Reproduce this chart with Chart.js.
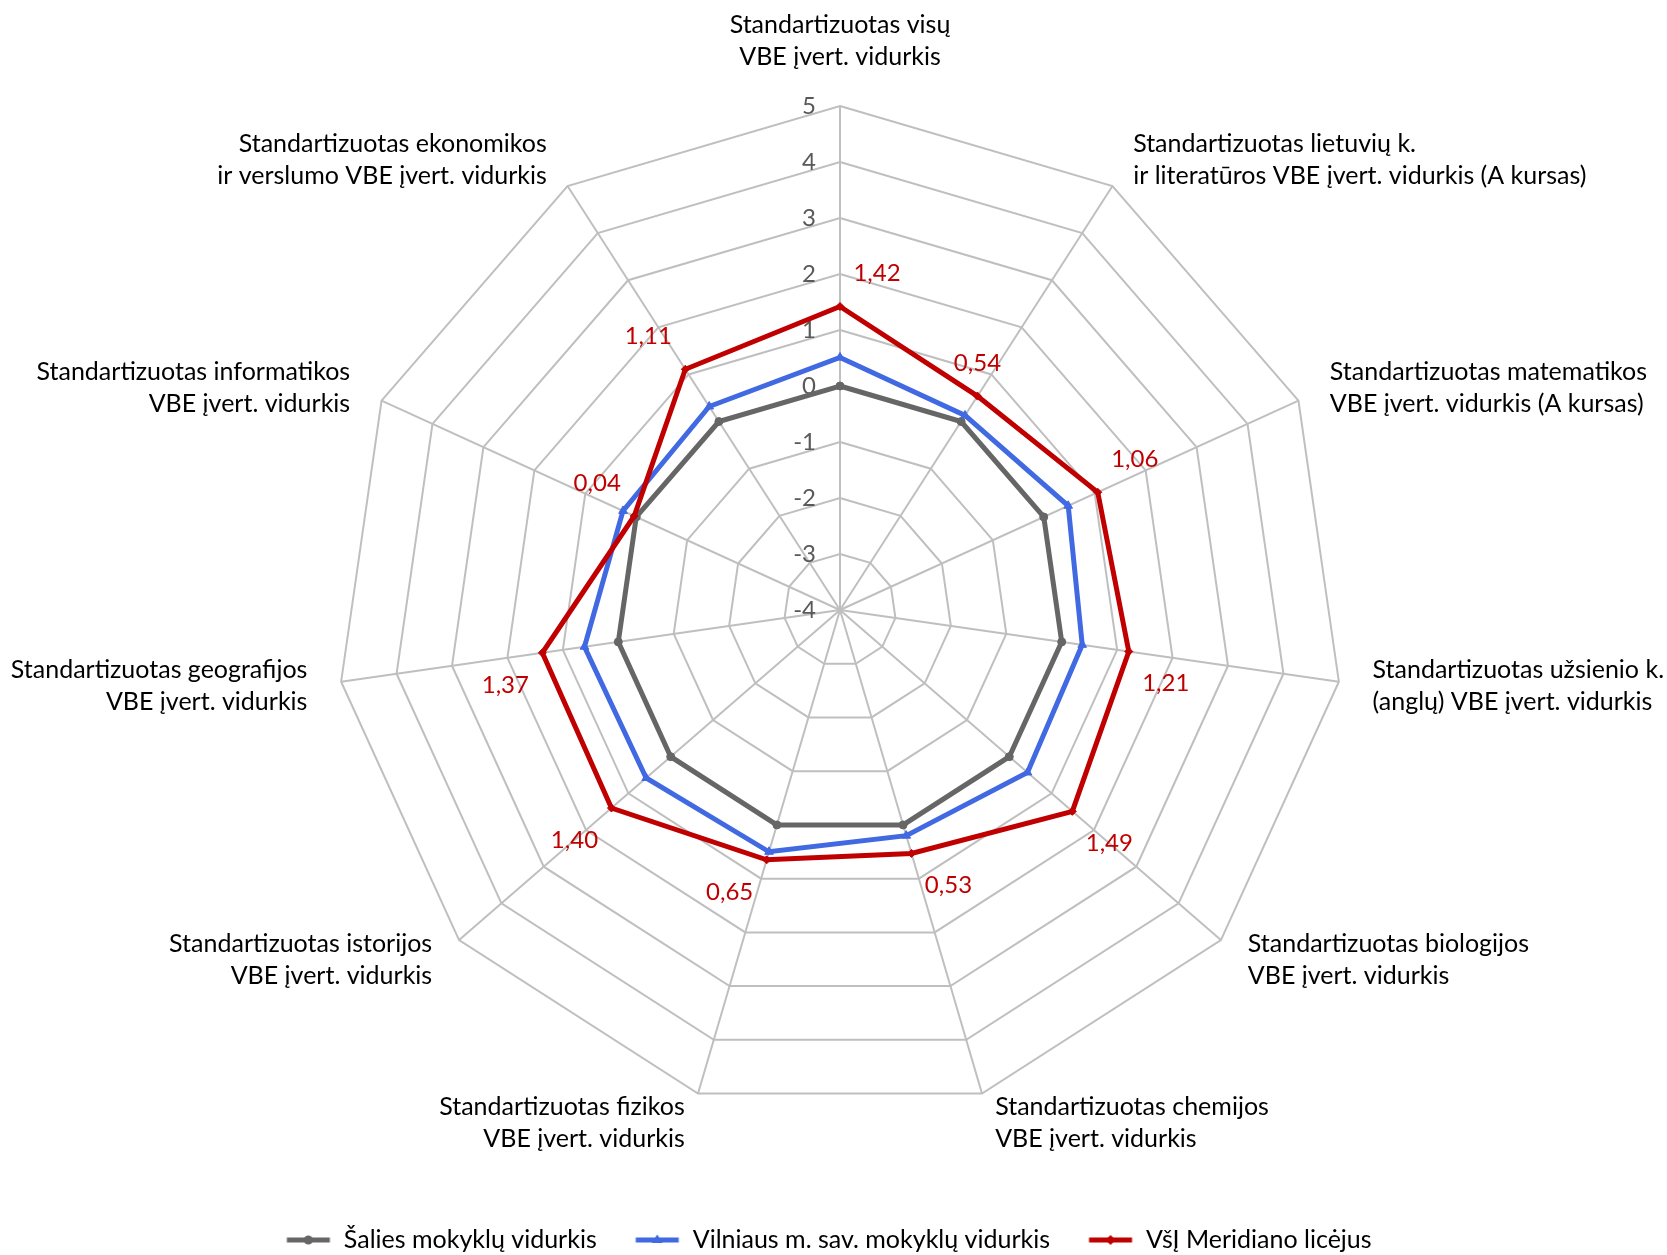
<!DOCTYPE html>
<html><head><meta charset="utf-8">
<script src="https://cdn.jsdelivr.net/npm/chart.js@4.4.1/dist/chart.umd.min.js"></script>
<style>html,body{margin:0;padding:0;background:#fff}#wrap{width:1667px;height:1255px;position:relative}</style>
</head><body><div id="wrap"><canvas id="c"></canvas></div>
<script>
const categories = [
  ["Standartizuotas visų", "VBE įvert. vidurkis"],
  ["Standartizuotas lietuvių k.", "ir literatūros VBE įvert. vidurkis (A kursas)"],
  ["Standartizuotas matematikos", "VBE įvert. vidurkis (A kursas)"],
  ["Standartizuotas užsienio k.", "(anglų) VBE įvert. vidurkis"],
  ["Standartizuotas biologijos", "VBE įvert. vidurkis"],
  ["Standartizuotas chemijos", "VBE įvert. vidurkis"],
  ["Standartizuotas fizikos", "VBE įvert. vidurkis"],
  ["Standartizuotas istorijos", "VBE įvert. vidurkis"],
  ["Standartizuotas geografijos", "VBE įvert. vidurkis"],
  ["Standartizuotas informatikos", "VBE įvert. vidurkis"],
  ["Standartizuotas ekonomikos", "ir verslumo VBE įvert. vidurkis"]
];
const seriesNames = ["Šalies mokyklų vidurkis", "Vilniaus m. sav. mokyklų vidurkis", "VšĮ Meridiano licėjus"];
const nationalValues = [0, 0, 0, 0, 0, 0, 0, 0, 0, 0, 0];
const vilniusValues = [0.51, 0.13, 0.48, 0.37, 0.43, 0.20, 0.50, 0.58, 0.61, 0.26, 0.32];
const meridianValues = [1.42, 0.54, 1.06, 1.21, 1.49, 0.53, 0.65, 1.40, 1.37, 0.04, 1.11];
const axisMin = -4;
const axisMax = 5;
const tickStep = 1;
const labelAnchors = ['ne', 'n', 'ne', 'se', 'se', 'se', 'sw', 'sw', 'sw', 'nw', 'nw'];

const FONT = 'Lato, "Open Sans", sans-serif';
const colors = ['#666666', '#4169E1', '#C00000'];
const markers = ['circle', 'triangle', 'rectRot'];
const markerR = [4, 5, 4];

function makeIcon(i) {
  const c = document.createElement('canvas');
  c.width = 46; c.height = 14;
  const g = c.getContext('2d');
  g.strokeStyle = colors[i]; g.fillStyle = colors[i];
  g.lineWidth = 5;
  g.beginPath(); g.moveTo(1.5, 7); g.lineTo(44.5, 7); g.stroke();
  g.beginPath();
  if (i === 0) { g.arc(23, 7, 4.5, 0, Math.PI * 2); }
  else if (i === 1) { g.moveTo(23, 1.5); g.lineTo(28.5, 10); g.lineTo(17.5, 10); g.closePath(); }
  else { g.moveTo(23, 2); g.lineTo(28, 7); g.lineTo(23, 12); g.lineTo(18, 7); g.closePath(); }
  g.fill();
  return c;
}
const icons = [makeIcon(0), makeIcon(1), makeIcon(2)];

const LEGEND_PAD = 37.5;
const LEGEND_FONT = 25;

const customPlugin = {
  id: 'custom',
  afterLayout(chart) {
    const lg = chart.legend;
    if (!lg) return;
    const h = lg.bottom - lg.top;
    const targetTop = 1240 - LEGEND_PAD - LEGEND_FONT / 2;
    lg.top = targetTop; lg.bottom = targetTop + h;
    lg.left -= 12; lg.right -= 12;
  },
  beforeDatasetsDraw(chart) {
    const s = chart.scales.r, ctx = chart.ctx;
    ctx.save();
    ctx.font = '24px ' + FONT;
    ctx.fillStyle = '#595959';
    ctx.textAlign = 'right';
    ctx.textBaseline = 'middle';
    s.ticks.forEach(t => {
      const d = s.getDistanceFromCenterForValue(t.value);
      ctx.fillText(String(t.value), s.xCenter - 24, s.yCenter - d);
    });
    // category labels
    ctx.font = '25px ' + FONT;
    ctx.fillStyle = '#000000';
    const lineH = 32;
    chart.data.labels.forEach((lab, i) => {
      const a = s.getIndexAngle(i);
      const sn = Math.sin(a), cs = Math.cos(a);
      const p = s.getPointPosition(i, s.drawingArea);
      let x, cy;
      if (i === 0) {
        ctx.textAlign = 'center'; x = p.x; cy = p.y - 65;
      } else {
        if (sn > 0) { ctx.textAlign = 'left'; x = p.x + 29 * sn + 5; }
        else { ctx.textAlign = 'right'; x = p.x + 29 * sn - 5; }
        cy = p.y - 30.5 * cs;
      }
      const lines = Array.isArray(lab) ? lab : [lab];
      const y0 = cy - (lines.length - 1) * lineH / 2;
      lines.forEach((ln, k) => ctx.fillText(ln, x, y0 + k * lineH));
    });
    ctx.restore();
  },
  afterDatasetsDraw(chart) {
    const ctx = chart.ctx;
    const meta = chart.getDatasetMeta(2);
    const ds = chart.data.datasets[2];
    ctx.save();
    ctx.font = '24px ' + FONT;
    ctx.fillStyle = '#C00000';
    ctx.textAlign = 'center';
    ctx.textBaseline = 'middle';
    meta.data.forEach((pt, i) => {
      const an = labelAnchors[i];
      let dx = 0, dy = 0;
      if (an.includes('e')) dx = 37;
      if (an.includes('w')) dx = -37;
      if (an.includes('n')) dy = -33;
      if (an.includes('s')) dy = 32;
      const txt = ds.data[i].toFixed(2).replace('.', ',');
      ctx.fillText(txt, pt.x + dx, pt.y + dy);
    });
    ctx.restore();
  }
};

const seriesValues = [nationalValues, vilniusValues, meridianValues];
const datasets = seriesNames.map((name, i) => ({
  label: name,
  data: seriesValues[i],
  borderColor: colors[i],
  backgroundColor: colors[i],
  pointBackgroundColor: colors[i],
  pointBorderColor: colors[i],
  borderWidth: 5,
  pointStyle: markers[i],
  pointRadius: markerR[i],
  pointBorderWidth: 1,
  fill: false,
  tension: 0,
  order: 2 - i
}));

new Chart(document.getElementById('c'), {
  type: 'radar',
  data: { labels: categories, datasets },
  options: {
    responsive: true,
    maintainAspectRatio: false,
    animation: false,
    layout: { padding: { top: 106, left: 14, right: 0, bottom: 68 } },
    scales: {
      r: {
        min: axisMin, max: axisMax,
        ticks: { stepSize: tickStep, display: false },
        grid: { color: '#BFBFBF', lineWidth: 2, circular: false },
        angleLines: { color: '#BFBFBF', lineWidth: 2 },
        pointLabels: { display: false }
      }
    },
    plugins: {
      tooltip: { enabled: false },
      legend: {
        position: 'bottom',
        labels: {
          usePointStyle: true,
          pointStyleWidth: 46,
          padding: LEGEND_PAD,
          color: '#000',
          font: { family: FONT, size: LEGEND_FONT },
          generateLabels(chart) {
            return chart.data.datasets.map((d, i) => ({
              text: d.label, pointStyle: icons[i], fillStyle: d.borderColor,
              strokeStyle: d.borderColor, lineWidth: 0, hidden: false,
              datasetIndex: i, fontColor: '#000'
            }));
          }
        }
      }
    }
  },
  plugins: [customPlugin]
});
</script></body></html>
